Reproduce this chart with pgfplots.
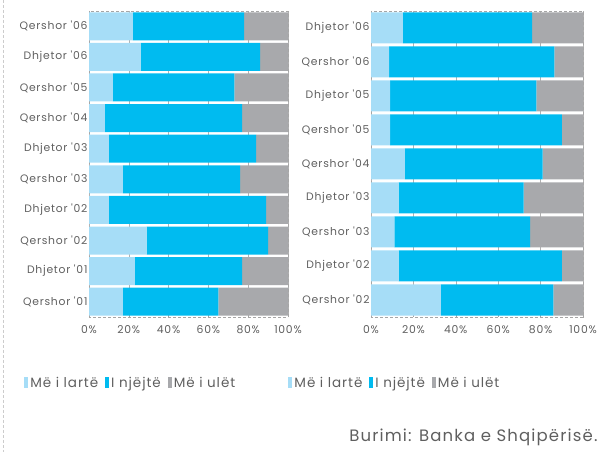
\documentclass[border=0pt]{standalone}
\usepackage{fontspec}
\setmainfont{Poppins}
\newfontfamily\wide[LetterSpace=7]{Poppins}
\usepackage{pgfplots}
\pgfplotsset{compat=1.18}
\definecolor{lblue}{RGB}{166,221,247}
\definecolor{cblue}{RGB}{0,187,240}
\definecolor{cgray}{RGB}{168,169,172}
\definecolor{txt}{RGB}{95,95,95}
\pgfplotsset{
  mystyle/.style={
    xbar stacked, scale only axis, y dir=reverse,
    xmin=0, xmax=100,
    xtick={0,20,40,60,80,100},
    xticklabels={0\%,20\%,40\%,60\%,80\%,100\%},
    ytick=data,
    axis line style={densely dashed, gray!70, line width=0.5pt},
    tick style={gray!70, line width=0.5pt},
    major tick length=3pt,
    xtick pos=bottom, ytick pos=left,
    ytick style={draw=none},
    xmajorgrids, grid style={gray!60, line width=0.4pt},
    tick label style={font=\wide\fontsize{10.8}{12}\selectfont, text=txt},
    yticklabel style={xshift=2pt},
    xticklabel style={yshift=-5pt},
    legend columns=3,
    legend style={draw=none, fill=none, font=\wide\fontsize{13.5}{15}\selectfont, text=txt,
      /tikz/every even column/.append style={column sep=5pt}},
    legend image code/.code={\fill[##1] (0pt,-5pt) rectangle (4pt,6pt);},
  }
}
\begin{document}
\begin{tikzpicture}
\path[use as bounding box] (0pt,0pt) rectangle (607pt,452pt);
\draw[densely dashed, gray!40, line width=0.6pt] (3pt,452pt) -- (3pt,0pt);
\begin{axis}[mystyle, at={(89pt,441pt)}, anchor=north west,
  width=199pt, height=306pt, bar width=28pt,
  ymin=-0.5, ymax=9.5,
  yticklabels={Qershor '06,Dhjetor '06,Qershor '05,Qershor '04,Dhjetor '03,Qershor '03,Dhjetor '02,Qershor '02,Dhjetor '01,Qershor '01},
  legend style={at={(0.21,-0.215)}, anchor=center},
]
\addplot[fill=lblue, draw=none] coordinates {(22,0) (26,1) (12,2) (8,3) (10,4) (17,5) (10,6) (29,7) (23,8) (17,9)};
\addplot[fill=cblue, draw=none] coordinates {(56,0) (60,1) (61,2) (69,3) (74,4) (59,5) (79,6) (61,7) (54,8) (48,9)};
\addplot[fill=cgray, draw=none] coordinates {(22,0) (14,1) (27,2) (23,3) (16,4) (24,5) (11,6) (10,7) (23,8) (35,9)};
\legend{Më i lartë, I njëjtë, Më i ulët}
\end{axis}
\begin{axis}[mystyle, at={(371pt,441pt)}, anchor=north west,
  width=212pt, height=306pt, bar width=31pt,
  ymin=-0.5, ymax=8.5,
  yticklabels={Dhjetor '06,Qershor '06,Dhjetor '05,Qershor '05,Qershor '04,Dhjetor '03,Qershor '03,Dhjetor '02,Qershor '02},
  legend style={at={(0.113,-0.215)}, anchor=center},
]
\addplot[fill=lblue, draw=none] coordinates {(15,0) (8.5,1) (9,2) (9,3) (16,4) (13,5) (11,6) (13,7) (33,8)};
\addplot[fill=cblue, draw=none] coordinates {(61,0) (78,1) (69,2) (81,3) (65,4) (59,5) (64,6) (77,7) (53,8)};
\addplot[fill=cgray, draw=none] coordinates {(24,0) (13.5,1) (22,2) (10,3) (19,4) (28,5) (25,6) (10,7) (14,8)};
\legend{Më i lartë, I njëjtë, Më i ulët}
\end{axis}
\node[anchor=east, font=\wide\fontsize{16.5}{18}\selectfont, text=txt] at (601pt,15pt) {Burimi: Banka e Shqipërisë.};
\end{tikzpicture}
\end{document}
